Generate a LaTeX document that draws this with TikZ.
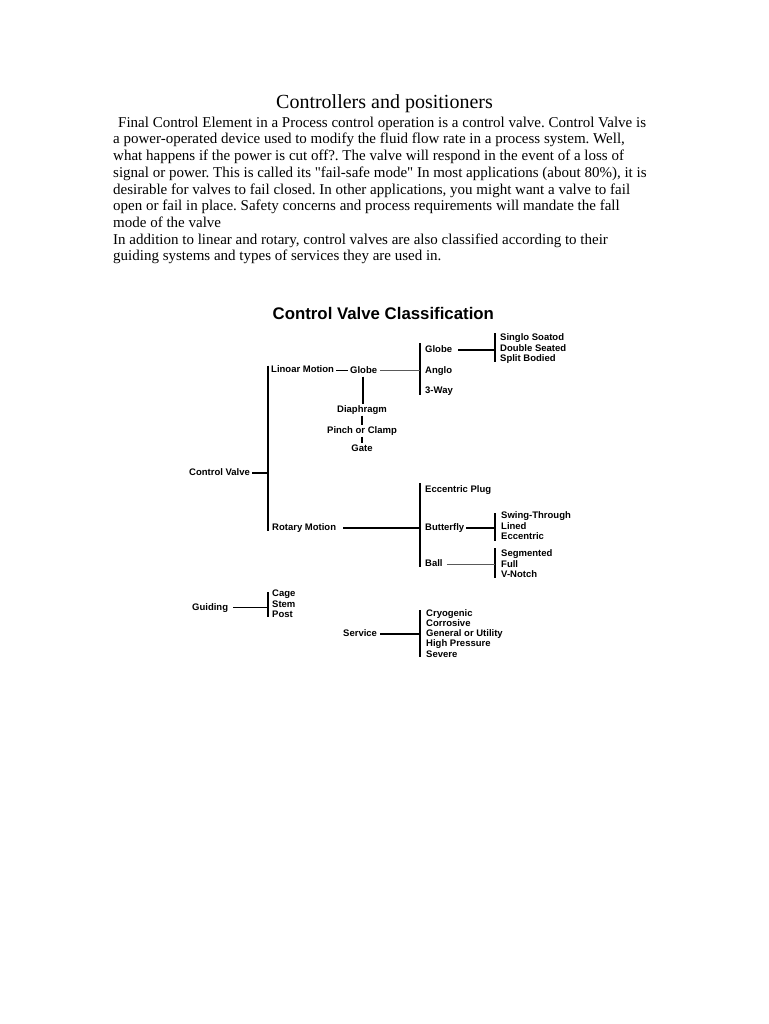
\documentclass[tikz,border=0pt]{standalone}
\usepackage{fontspec}
\setmainfont{Liberation Serif}
\newfontfamily\dsans{Liberation Sans}
\frenchspacing
\begin{document}
\begin{tikzpicture}[x=1pt,y=-1pt,
  body/.style={anchor=base west, inner sep=0pt, font=\fontsize{15}{16}\selectfont},
  ptitle/.style={anchor=base, inner sep=0pt, font=\fontsize{20}{22}\selectfont},
  dtitle/.style={anchor=base west, inner sep=0pt, font=\dsans\bfseries\fontsize{16.8}{18}\selectfont},
  lbl/.style={anchor=base west, inner xsep=2pt, inner ysep=1pt, text height=7pt, text depth=2pt,
              font=\dsans\bfseries\fontsize{9.5}{11}\selectfont},
  clbl/.style={lbl, anchor=base},
  bar/.style={line width=2pt},
  conn/.style={line width=1.8pt},
  thinconn/.style={line width=1.1pt, black!65}]
\fill[white] (0,0) rectangle (768,1024);
\useasboundingbox (0,0) rectangle (768,1024);

% ---------- text ----------
\node[ptitle] (title) at (384.5,108.3) {Controllers and positioners};
\node[body] (p1) at (118,127.3) {Final Control Element in a Process control operation is a control valve. Control Valve is};
\node[body] (p2) at (113,144.0) {a power-operated device used to modify the fluid flow rate in a process system. Well,};
\node[body] (p3) at (113,160.7) {what happens if the power is cut off?. The valve will respond in the event of a loss of};
\node[body] (p4) at (113,177.4) {signal or power. This is called its \textquotedbl fail-safe mode\textquotedbl{} In most applications (about 80\%), it is};
\node[body] (p5) at (113,194.1) {desirable for valves to fail closed. In other applications, you might want a valve to fail};
\node[body] (p6) at (113,210.8) {open or fail in place. Safety concerns and process requirements will mandate the fall};
\node[body] (p7) at (113,227.5) {mode of the valve};
\node[body] (p8) at (113,244.2) {In addition to linear and rotary, control valves are also classified according to their};
\node[body] (p9) at (113,260.9) {guiding systems and types of services they are used in.};

% ---------- diagram ----------
\node[dtitle] (dt) at (272.5,319.3) {Control Valve Classification};

\node[lbl] (cv)  at (187,475.3) {Control Valve};
\node[lbl] (lm)  at (269,372.7) {Linoar Motion};
\node[lbl] (g1)  at (348,373.3) {Globe};
\node[clbl] (dia) at (362,412.3) {Diaphragm};
\node[clbl] (pin) at (362,433.3) {Pinch or Clamp};
\node[clbl] (gat) at (362,451.3) {Gate};
\node[lbl] (g2)  at (423,352.3) {Globe};
\node[lbl] (ang) at (423,373.3) {Anglo};
\node[lbl] (way) at (423,393.3) {3-Way};
\node[lbl] (ss)  at (498,340.0) {Singlo Soatod};
\node[lbl] (ds)  at (498,351.0) {Double Seated};
\node[lbl] (sb)  at (498,361.0) {Split Bodied};
\node[lbl] (rm)  at (270,530.3) {Rotary Motion};
\node[lbl] (ep)  at (423,492.3) {Eccentric Plug};
\node[lbl] (bf)  at (423,530.3) {Butterfly};
\node[lbl] (st)  at (499,518.3) {Swing-Through};
\node[lbl] (li)  at (499,529.6) {Lined};
\node[lbl] (ec)  at (499,539.6) {Eccentric};
\node[lbl] (ba)  at (423,566.6) {Ball};
\node[lbl] (sg)  at (499,556.6) {Segmented};
\node[lbl] (fu)  at (499,567.0) {Full};
\node[lbl] (vn)  at (499,577.6) {V-Notch};
\node[lbl] (gu)  at (190,610.0) {Guiding};
\node[lbl] (ca)  at (270,596.6) {Cage};
\node[lbl] (sm)  at (270,607.3) {Stem};
\node[lbl] (po)  at (270,617.3) {Post};
\node[lbl] (se)  at (341,636.6) {Service};
\node[lbl] (cr)  at (424,616.0) {Cryogenic};
\node[lbl] (co)  at (424,626.0) {Corrosive};
\node[lbl] (gu2) at (424,636.3) {General or Utility};
\node[lbl] (hp)  at (424,646.6) {High Pressure};
\node[lbl] (sv)  at (424,657.6) {Severe};

% bar coordinates
\coordinate (b1t) at (268,365.5); \coordinate (b1b) at (268,531);
\coordinate (b2t) at (420,343);   \coordinate (b2b) at (420,395);
\coordinate (b3t) at (495,333);   \coordinate (b3b) at (495,362);
\coordinate (b4t) at (420,483);   \coordinate (b4b) at (420,567);
\coordinate (b5t) at (495,513);   \coordinate (b5b) at (495,541);
\coordinate (b6t) at (495,548);   \coordinate (b6b) at (495,578);
\coordinate (b7t) at (268,592);   \coordinate (b7b) at (268,617);
\coordinate (b8t) at (420,610);   \coordinate (b8b) at (420,657);

\foreach \b in {1,...,8} \draw[bar] (b\b t) -- (b\b b);

% connectors
\draw[conn] (cv.east) -- (cv.east -| b1t);
\draw[line width=1.2pt] (lm.east) -- (lm.east -| g1.west);
\draw[thinconn] ([xshift=1pt]g1.east) -- (g1.east -| b2t);
\draw[conn] ([xshift=-1pt]g1.south) -- ([xshift=-1pt]g1.south |- dia.north);
\draw[conn] (dia.south) -- (pin.north);
\draw[conn] (pin.south) -- (gat.north);
\draw[conn] ([xshift=4pt]g2.east) -- (g2.east -| b3t);
\draw[conn] ([xshift=5pt]rm.east) -- (rm.east -| b4t);
\draw[conn] (bf.east) -- (bf.east -| b5t);
\draw[thinconn] ([xshift=2pt]ba.east) -- (ba.east -| b6t);
\draw[conn] ([xshift=3pt]gu.east) -- (gu.east -| b7t);
\draw[conn] ([xshift=1pt]se.east) -- (se.east -| b8t);
\end{tikzpicture}
\end{document}
